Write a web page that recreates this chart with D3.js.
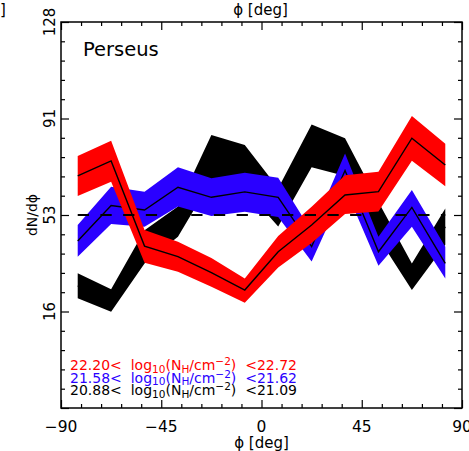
<!DOCTYPE html>
<html>
<head>
<meta charset="utf-8">
<script src="https://cdn.jsdelivr.net/npm/d3@7"></script>
<style>
  html, body { margin: 0; padding: 0; background: #fff; }
  svg { display: block; }
  text { font-family: "DejaVu Sans", sans-serif; }
</style>
</head>
<body>
<svg id="chart" width="469" height="451"></svg>
<script>
// Orientation angle bins (degrees)
const phi = [-82.5, -67.5, -52.5, -37.5, -22.5, -7.5, 7.5, 22.5, 37.5, 52.5, 67.5, 82.5];

// Column-density bins, drawn back to front
const binNames = ["20.88–21.09", "21.58–21.62", "22.20–22.72"];
const binColors = ["#000000", "#2a00ff", "#ff0000"];

// dN/dphi per bin: centre value with lower / upper envelope
const blackMid = [25.8, 20.1, 40.9, 50.6, 75.3, 71.8, 56.1, 80.0, 75.7, 51.3, 29.3, 48.7];
const blackLo  = [21.0, 15.8, 34.5, 44.8, 66.6, 63.3, 48.8, 71.7, 68.4, 44.3, 24.2, 41.7];
const blackHi  = [30.7, 24.5, 47.3, 56.5, 84.2, 80.4, 63.6, 88.3, 83.0, 58.3, 34.5, 55.8];

const blueMid  = [43.2, 56.9, 55.2, 64.0, 60.1, 62.2, 60.1, 41.0, 70.5, 39.0, 56.2, 34.5];
const blueLo   = [37.1, 49.8, 48.7, 56.5, 52.9, 54.5, 52.5, 35.2, 63.8, 33.6, 48.7, 28.7];
const blueHi   = [49.4, 64.2, 62.3, 71.7, 67.5, 69.6, 67.7, 47.0, 77.1, 44.8, 62.9, 41.0];

const redMid   = [68.4, 74.2, 41.2, 37.1, 30.9, 24.2, 39.0, 49.4, 61.0, 62.3, 83.0, 72.6];
const redLo    = [60.6, 66.1, 34.8, 31.3, 25.5, 19.3, 32.9, 42.4, 53.6, 54.6, 74.3, 64.4];
const redHi    = [76.1, 82.0, 47.4, 42.9, 36.6, 28.7, 45.1, 56.4, 68.6, 70.0, 91.6, 80.8];

// Mean level (dashed reference)
const meanLevel = 53.25;

// Axis ticks
const xTickValues = [-90, -45, 0, 45, 90];
const xTickLabels = ["−90", "−45", "0", "45", "90"];
const yTickValues = [-21.5, 15.875, 53.25, 90.625, 128];
const yTickLabels = ["", "16", "53", "91", "128"];

// Legend text per bin (top line first)
const legendLow  = ["22.20", "21.58", "20.88"];
const legendHigh = ["22.72", "21.62", "21.09"];
const legendColors = ["#ff0000", "#2a00ff", "#000000"];

const series = [
  { mid: blackMid, lo: blackLo, hi: blackHi, color: binColors[0] },
  { mid: blueMid,  lo: blueLo,  hi: blueHi,  color: binColors[1] },
  { mid: redMid,   lo: redLo,   hi: redHi,   color: binColors[2] }
];

const L = 61, R = 462, T = 22, B = 408;
const svg = d3.select("#chart");

const x = d3.scaleLinear().domain([-90, 90]).range([L, R]);
const y = d3.scaleLinear().domain([-21.5, 128]).range([B, T]);

// Bands and centre lines
const area = d3.area()
  .x((d, i) => x(phi[i]))
  .y0(d => y(d[0]))
  .y1(d => y(d[1]));
const line = d3.line()
  .x((d, i) => x(phi[i]))
  .y(d => y(d));

const plot = svg.append("g");
series.forEach(s => {
  plot.append("path")
    .attr("d", area(s.lo.map((v, i) => [v, s.hi[i]])))
    .attr("fill", s.color);
  plot.append("path")
    .attr("d", line(s.mid))
    .attr("fill", "none")
    .attr("stroke", "#000")
    .attr("stroke-width", 1.4);
});

// Dashed mean level
plot.append("line")
  .attr("x1", x(phi[0])).attr("x2", x(phi[phi.length - 1]))
  .attr("y1", y(meanLevel)).attr("y2", y(meanLevel))
  .attr("stroke", "#000")
  .attr("stroke-width", 2)
  .attr("stroke-dasharray", "11.3,11.4");

// Axes: ticks pointing inward on all four sides
const xMinor = d3.range(-90, 90.01, 9);
const yStep = (128 - -21.5) / 4 / 5;
const yMinor = d3.range(0, 21).map(i => -21.5 + i * yStep);

function isMajorX(v) { return xTickValues.some(t => Math.abs(t - v) < 1e-6); }
function isMajorY(v) { return yTickValues.some(t => Math.abs(t - v) < 1e-6); }

const axBottom = svg.append("g").attr("transform", `translate(0,${B})`)
  .call(d3.axisBottom(x).tickValues(xMinor).tickSize(0).tickFormat(""));
const axTop = svg.append("g").attr("transform", `translate(0,${T})`)
  .call(d3.axisTop(x).tickValues(xMinor).tickSize(0).tickFormat(""));
const axLeft = svg.append("g").attr("transform", `translate(${L},0)`)
  .call(d3.axisLeft(y).tickValues(yMinor).tickSize(0).tickFormat(""));
const axRight = svg.append("g").attr("transform", `translate(${R},0)`)
  .call(d3.axisRight(y).tickValues(yMinor).tickSize(0).tickFormat(""));

[axBottom, axTop, axLeft, axRight].forEach(g => {
  g.select(".domain").remove();
});
axBottom.selectAll(".tick line").attr("y2", d => -(isMajorX(d) ? 8 : 4));
axTop.selectAll(".tick line").attr("y2", d => (isMajorX(d) ? 8 : 4));
axLeft.selectAll(".tick line").attr("x2", d => (isMajorY(d) ? 8 : 4));
axRight.selectAll(".tick line").attr("x2", d => -(isMajorY(d) ? 8 : 4));
svg.selectAll(".tick line").attr("stroke", "#000").attr("stroke-width", 1.2);

// Frame
svg.append("rect")
  .attr("x", L).attr("y", T).attr("width", R - L).attr("height", B - T)
  .attr("fill", "none").attr("stroke", "#000").attr("stroke-width", 1.5);

// X tick labels
svg.append("g").selectAll("text")
  .data(xTickValues)
  .join("text")
  .attr("x", d => x(d))
  .attr("y", 432)
  .attr("text-anchor", "middle")
  .attr("font-size", 15.5)
  .text((d, i) => xTickLabels[i]);

// Y tick labels (rotated)
svg.append("g").selectAll("text")
  .data(yTickValues)
  .join("text")
  .attr("transform", d => `translate(55,${y(d)}) rotate(-90)`)
  .attr("text-anchor", "middle")
  .attr("font-size", 15)
  .text((d, i) => yTickLabels[i]);

// Axis titles
svg.append("text")
  .attr("x", x(0)).attr("y", 448)
  .attr("text-anchor", "middle").attr("font-size", 15)
  .text("ϕ [deg]");
svg.append("text")
  .attr("x", x(0) - 1).attr("y", 15)
  .attr("text-anchor", "middle").attr("font-size", 15)
  .text("ϕ [deg]");
svg.append("text")
  .attr("transform", `translate(37,${y(meanLevel)}) rotate(-90)`)
  .attr("text-anchor", "middle").attr("font-size", 14)
  .text("dN/dϕ");
svg.append("text")
  .attr("x", 0).attr("y", 15).attr("font-size", 15)
  .text("]");

// Region name
svg.append("text")
  .attr("x", 83).attr("y", 56)
  .attr("font-size", 19.5)
  .text("Perseus");

// Legend
const legend = svg.append("g");
legendLow.forEach((lo, i) => {
  const t = legend.append("text")
    .attr("x", 70).attr("y", 370 + i * 12.6)
    .attr("font-size", 14)
    .attr("fill", legendColors[i])
    .style("white-space", "pre");
  t.append("tspan").text(`${lo}<  log`);
  t.append("tspan").attr("dy", 2.5).attr("font-size", 10.5).text("10");
  t.append("tspan").attr("dy", -2.5).text("(N");
  t.append("tspan").attr("dy", 2.5).attr("font-size", 10.5).text("H");
  t.append("tspan").attr("dy", -2.5).text("/cm");
  t.append("tspan").attr("dy", -5).attr("font-size", 10.5).text("−2");
  t.append("tspan").attr("dy", 5).text(`)  <${legendHigh[i]}`);
});
</script>
</body>
</html>
